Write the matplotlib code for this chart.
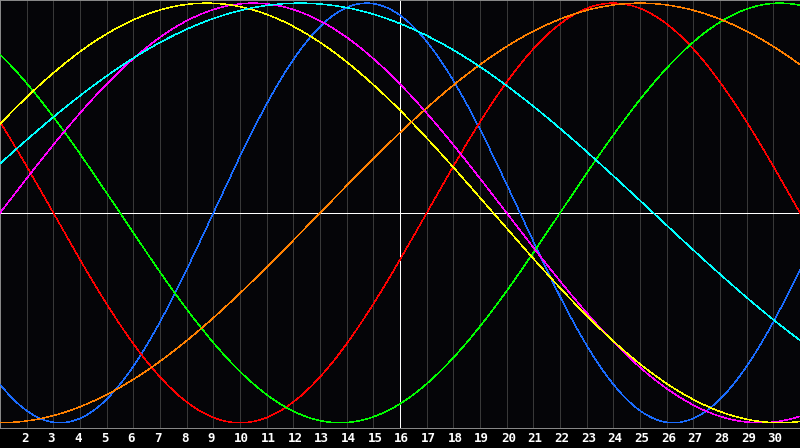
import matplotlib
matplotlib.use("Agg")
import matplotlib.pyplot as plt
import numpy as np

# biorhythm cycles: length in days and day-of-cycle at day 1 of the chart
cycle_len = [23, 28, 33, 38, 43, 48, 53]
cycle_pos = [15, 12, 12, 0, 3, 36, 2]
cycle_col = ['#1a6cff', '#ff0000', '#00ff00', '#ff00ff', '#ffff00', '#ff8000', '#00ffff']

days = list(range(2, 31))
today = 16
first_day, last_day = 1, 31

fig = plt.figure(figsize=(8, 4.48), dpi=100)
fig.patch.set_facecolor('#000000')
ax = fig.add_axes([0, 20 / 448, 1, 428 / 448])
ax.set_facecolor('#050508')

# day grid
for d in days:
    if d != today:
        ax.axvline(d, color='#383838', lw=0.5, antialiased=False, zorder=1)

t = np.linspace(first_day, last_day, 901)
for L, p, c in zip(cycle_len, cycle_pos, cycle_col):
    y = np.sin(2 * np.pi * (t - first_day + p) / L)
    ax.plot(t, y, color=c, lw=0.35, antialiased=False, zorder=3)

ax.axhline(0, color='white', lw=0.6, antialiased=False, zorder=2)
ax.axvline(today, color='white', lw=0.6, antialiased=False, zorder=2)

ax.set_xlim(first_day, last_day)
ax.set_ylim(-1.025, 1.015)
ax.set_xticks([])
ax.set_yticks([])
for s in ['left', 'top', 'bottom']:
    ax.spines[s].set_color('#8c8c8c')
    ax.spines[s].set_linewidth(0.7)
ax.spines['right'].set_visible(False)

for d in days:
    ax.annotate(str(d), xy=(d, 0), xycoords=ax.get_xaxis_transform(),
                xytext=(-4.2, -7.3), textcoords='offset points',
                ha='left', va='center', color='white', fontsize=9,
                fontweight='bold', family='DejaVu Sans Mono',
                annotation_clip=False)

fig.savefig('out.png', dpi=100, facecolor=fig.get_facecolor())
